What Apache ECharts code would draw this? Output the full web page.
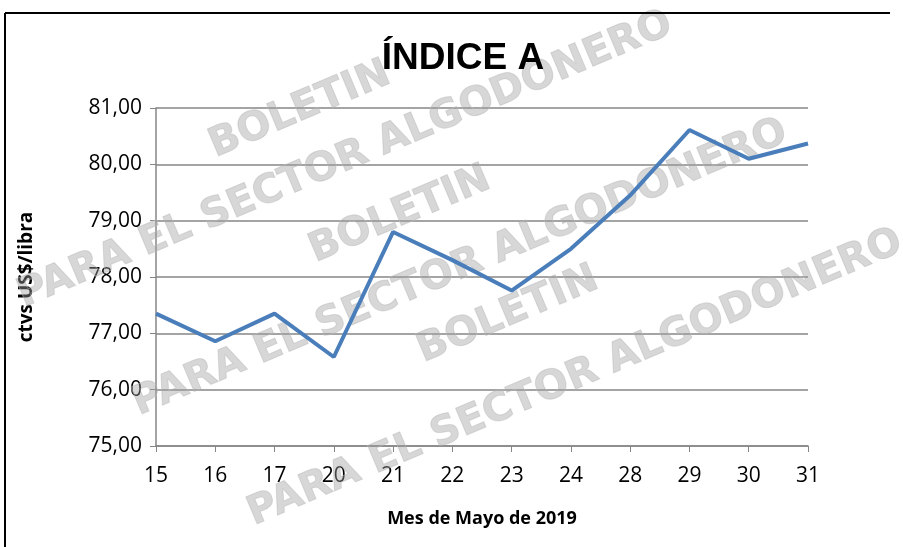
<!DOCTYPE html>
<html>
<head>
<meta charset="utf-8">
<script src="https://cdn.jsdelivr.net/npm/echarts@6/dist/echarts.min.js"></script>
<style>
  html, body { margin: 0; padding: 0; background: #fff; }
  #chart { width: 903px; height: 547px; }
</style>
</head>
<body>
<div id="chart"></div>
<script>
// dias de mayo 2019
var days = ['15', '16', '17', '20', '21', '22', '23', '24', '28', '29', '30', '31'];
// indice A, ctvs US$/libra
var indiceA = [77.35, 76.86, 77.35, 76.58, 78.80, 78.30, 77.76, 78.50, 79.45, 80.61, 80.10, 80.37];
var yTicks = [75, 76, 77, 78, 79, 80, 81];

var markText = 'PARA EL SECTOR ALGODONERO';
var markWord = 'BOLETIN';

function watermark(cx, cy, text) {
    return {
        type: 'text',
        x: cx,
        y: cy,
        rotation: 0.4,
        z: 1,
        silent: true,
        style: {
            text: text,
            font: 'bold 40px "DejaVu Sans"',
            fill: 'rgba(160,160,160,0.42)',
            stroke: 'rgba(200,200,200,0.5)',
            lineWidth: 1,
            align: 'center',
            verticalAlign: 'middle'
        }
    };
}

var chart = echarts.init(document.getElementById('chart'));
var option = {
    backgroundColor: '#fff',
    animation: false,
    title: {
        text: 'ÍNDICE A',
        left: 458,
        top: 35,
        textAlign: 'center',
        textStyle: {
            fontFamily: 'Liberation Sans',
            fontWeight: 'bold',
            fontSize: 37,
            color: '#000'
        }
    },
    grid: { left: 156, right: 95, top: 108, bottom: 101 },
    xAxis: {
        type: 'category',
        data: days,
        boundaryGap: false,
        name: 'Mes de Mayo de 2019',
        nameLocation: 'middle',
        nameGap: 64,
        nameTextStyle: { fontFamily: 'Open Sans', fontWeight: 'bold', fontSize: 18, color: '#000' },
        axisLine: { lineStyle: { color: '#868686', width: 1.5 } },
        axisTick: { show: true, length: 6, lineStyle: { color: '#868686' } },
        axisLabel: { fontFamily: 'Open Sans', fontSize: 21, color: '#000', margin: 20 }
    },
    yAxis: {
        type: 'value',
        min: yTicks[0],
        max: yTicks[yTicks.length - 1],
        interval: 1,
        name: 'ctvs US$/libra',
        nameLocation: 'middle',
        nameGap: 120,
        nameTextStyle: { fontFamily: 'Open Sans', fontWeight: 'bold', fontSize: 19, color: '#000' },
        axisLine: { show: true, lineStyle: { color: '#868686', width: 1.5 } },
        axisTick: { show: true, length: 6, lineStyle: { color: '#868686' } },
        splitLine: { lineStyle: { color: '#868686', width: 1.5 } },
        axisLabel: {
            fontFamily: 'Open Sans',
            fontSize: 21,
            color: '#000',
            margin: 14,
            formatter: function (v) { return v.toFixed(2).replace('.', ','); }
        }
    },
    graphic: [
        { type: 'line', z: 10, shape: { x1: 5, y1: 13, x2: 5, y2: 547 }, style: { stroke: '#000', lineWidth: 2 } },
        { type: 'line', z: 10, shape: { x1: 5, y1: 13, x2: 890, y2: 13 }, style: { stroke: '#000', lineWidth: 2 } },
        watermark(300, 110, markWord),
        watermark(345, 160, markText),
        watermark(400, 215, markWord),
        watermark(460, 268, markText),
        watermark(508, 315, markWord),
        watermark(575, 378, markText)
    ],
    series: [{
        type: 'line',
        data: indiceA,
        symbol: 'none',
        z: 5,
        lineStyle: { color: '#4a7ebb', width: 4 }
    }]
};
chart.setOption(option);
</script>
</body>
</html>
